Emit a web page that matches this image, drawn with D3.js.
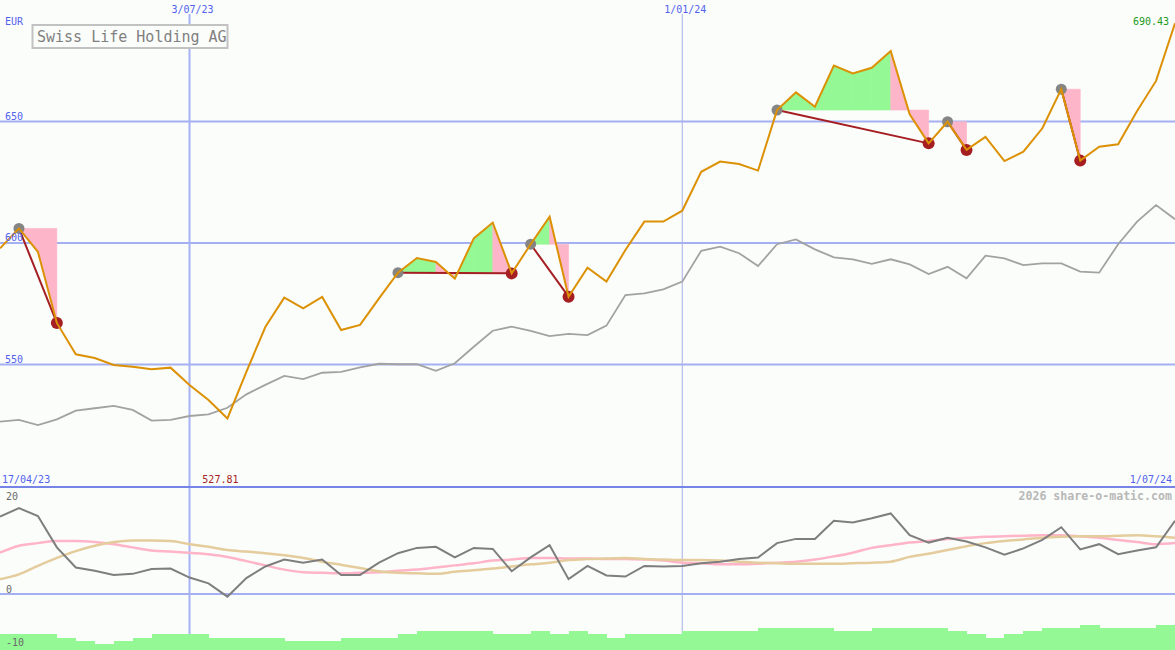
<!DOCTYPE html>
<html><head><meta charset="utf-8">
<script src="https://cdn.jsdelivr.net/npm/d3@7"></script>
<style>html,body{margin:0;padding:0;background:#fbfdfb;} svg{display:block}</style>
</head><body><svg id="c" width="1175" height="650"></svg>
<script>
const dates = ["2023-04-24","2023-05-01","2023-05-08","2023-05-15","2023-05-22","2023-05-29","2023-06-05","2023-06-12","2023-06-19","2023-06-26",
"2023-07-03","2023-07-10","2023-07-17","2023-07-24","2023-07-31","2023-08-07","2023-08-14","2023-08-21","2023-08-28","2023-09-04",
"2023-09-11","2023-09-18","2023-09-25","2023-10-02","2023-10-09","2023-10-16","2023-10-23","2023-10-30","2023-11-06","2023-11-13",
"2023-11-20","2023-11-27","2023-12-04","2023-12-11","2023-12-18","2023-12-25","2024-01-01","2024-01-08","2024-01-15","2024-01-22",
"2024-01-29","2024-02-05","2024-02-12","2024-02-19","2024-02-26","2024-03-04","2024-03-11","2024-03-18","2024-03-25","2024-04-01",
"2024-04-08","2024-04-15","2024-04-22","2024-04-29","2024-05-06","2024-05-13","2024-05-20","2024-05-27","2024-06-03","2024-06-10",
"2024-06-17","2024-06-24","2024-07-01"];
const price = [597.8,606.0,596.4,567.1,554.2,552.7,549.8,549.1,548.0,548.7,
541.6,535.4,527.81,547.0,565.4,577.5,573.1,577.8,564.2,566.3,
577.2,587.8,593.8,592.2,585.3,601.9,608.4,587.5,599.5,610.8,
577.9,589.8,584.1,597.1,608.8,608.8,613.3,629.3,633.5,632.5,
629.8,654.7,662.0,656.1,673.0,669.8,672.1,679.0,653.0,641.0,
649.9,638.3,643.7,633.7,637.6,647.2,663.3,633.9,639.6,640.6,
654.3,666.7,690.43];
const compare = [526.5,527.2,525.1,527.4,531.0,532.0,533.0,531.3,526.9,527.2,
528.8,529.5,532.2,537.7,541.6,545.3,544.0,546.6,547.0,548.8,
550.3,550.1,550.1,547.4,550.5,557.3,563.9,565.6,563.8,561.7,
562.6,562.1,566.0,578.6,579.3,580.9,584.1,596.8,598.5,595.8,
590.5,599.5,601.5,597.4,594.1,593.3,591.4,593.3,591.2,587.2,
590.2,585.5,594.8,593.7,590.9,591.6,591.6,588.2,587.8,599.5,
608.8,615.6,609.8];
const momentum = [14.6,16.2,14.7,8.8,5.0,4.4,3.6,3.8,4.7,4.8,
3.1,2.0,-0.5,3.0,5.2,6.5,5.9,6.5,3.6,3.6,
5.9,7.7,8.7,8.9,6.9,8.7,8.5,4.3,6.9,9.2,
2.8,5.3,3.5,3.3,5.3,5.2,5.3,5.8,6.1,6.6,
6.9,9.6,10.4,10.4,13.8,13.5,14.3,15.2,11.1,9.7,
10.6,9.9,8.8,7.4,8.6,10.2,12.6,8.4,9.4,7.5,
8.2,8.8,13.8];
const avgFast = [7.8,9.1,9.6,10.0,10.0,9.8,9.4,8.8,8.2,8.0,
7.8,7.5,7.0,6.2,5.4,4.6,4.1,4.0,3.9,4.0,
4.1,4.4,4.6,5.0,5.4,5.8,6.3,6.5,6.8,6.8,
6.7,6.7,6.6,6.6,6.5,6.3,5.9,5.8,5.6,5.6,
5.7,5.9,6.1,6.5,7.1,7.8,8.7,9.2,9.7,10.0,
10.4,10.6,10.8,10.9,11.0,11.1,11.1,10.9,10.6,10.2,
9.8,9.4,9.6];
const avgSlow = [2.8,3.7,5.3,6.8,8.1,9.1,9.8,10.1,10.1,10.0,
9.4,8.9,8.3,8.0,7.7,7.3,6.8,6.1,5.5,4.9,
4.3,4.0,3.9,3.8,4.2,4.5,4.8,5.2,5.6,5.9,
6.4,6.6,6.7,6.8,6.6,6.5,6.4,6.4,6.3,6.1,
5.9,5.8,5.7,5.7,5.7,5.8,5.9,6.1,7.0,7.6,
8.3,9.0,9.6,10.0,10.3,10.6,10.8,10.9,10.9,11.0,
11.1,10.9,10.6];
const volume = [157,157,157,123,90,63,90,123,157,157,
157,123,123,123,123,90,90,90,123,123,
123,157,190,190,190,190,157,157,190,157,
190,157,123,157,157,157,190,190,190,190,
223,223,223,223,190,190,223,223,223,223,
190,157,123,157,190,223,223,250,223,223,
223,250];
const signals = [[1,3],[21,27],[28,30],[41,49],[50,51],[56,57]];
const priceTicks = [650,600,550];
const lowerTicks = [20,0,-10];
const gridDates = ["2023-07-03","2024-01-01"];
const gridLabels = ["3/07/23","1/01/24"];
const rangeLabels = ["17/04/23","1/07/24"];
const title = "Swiss Life Holding AG";
const currency = "EUR";
const credit = "2026 share-o-matic.com";

const parse = d3.timeParse("%Y-%m-%d");
const D = dates.map(parse);
const W = 1175, H = 650;
const svg = d3.select("#c");
const font = "DejaVu Sans Mono";
const blue = "#5262ee";
const gridC = "#a4b0f2";
const green = "#94f894", pink = "#fdb6c9";

const x = d3.scaleTime().domain([D[0], D[D.length-1]]).range([0, W]);
const y = d3.scaleLinear().domain([500, 700]).range([486, 0]);
const yl = d3.scaleLinear().domain([-10, 20]).range([647, 488]);
const yv = d3.scaleLinear().domain([0, 250]).range([650, 625]);

svg.append("rect").attr("width", W).attr("height", H).attr("fill", "#fbfdfb");

// horizontal price grid
svg.selectAll(".hg").data(priceTicks).enter().append("line")
  .attr("x1", 0).attr("x2", W).attr("y1", d => y(d)).attr("y2", d => y(d))
  .attr("stroke", gridC).attr("stroke-width", 2);
// vertical date grid
svg.selectAll(".vg").data(gridDates).enter().append("line")
  .attr("x1", d => x(parse(d))).attr("x2", d => x(parse(d)))
  .attr("y1", 14).attr("y2", H)
  .attr("stroke", (d, i) => i === 0 ? "#a6b2f4" : "#a8b0e6")
  .attr("stroke-width", (d, i) => i === 0 ? 2 : 1);
// separator
svg.append("line").attr("x1", 0).attr("x2", W).attr("y1", 487).attr("y2", 487)
  .attr("stroke", "#7684e8").attr("stroke-width", 2);
// lower zero line
svg.append("line").attr("x1", 0).attr("x2", W).attr("y1", yl(0)).attr("y2", yl(0))
  .attr("stroke", gridC).attr("stroke-width", 2);

// volume bars
svg.selectAll(".vol").data(volume).enter().append("rect")
  .attr("x", (d, i) => x(D[i])).attr("width", (d, i) => x(D[i+1]) - x(D[i]) + 0.5)
  .attr("y", d => yv(d)).attr("height", d => yv(0) - yv(d))
  .attr("fill", green).attr("shape-rendering", "crispEdges");

// comparison line
const lineP = d3.line().x((d, i) => x(D[i])).y(d => y(d));
svg.append("path").datum(compare).attr("d", lineP)
  .attr("fill", "none").attr("stroke", "#a2a2a2").attr("stroke-width", 1.8);

// signal fills
signals.forEach(([p, t]) => {
  const level = price[p];
  for (let k = p; k < t; k++) {
    const seg = [k, k+1];
    const c = price[k+1] >= level ? green : pink;
    const area = d3.area().x(i => x(D[i])).y0(y(level)).y1(i => y(price[i]));
    svg.append("path").datum(seg).attr("d", area)
      .attr("fill", c).attr("stroke", c).attr("stroke-width", 0.6);
  }
});
// signal lines
svg.selectAll(".sl").data(signals).enter().append("line")
  .attr("x1", d => x(D[d[0]])).attr("y1", d => y(price[d[0]]))
  .attr("x2", d => x(D[d[1]])).attr("y2", d => y(price[d[1]]))
  .attr("stroke", "#a41e22").attr("stroke-width", 2);
svg.selectAll(".pk").data(signals).enter().append("circle")
  .attr("cx", d => x(D[d[0]])).attr("cy", d => y(price[d[0]])).attr("r", 5.5)
  .attr("fill", "#858585");
svg.selectAll(".tr").data(signals).enter().append("circle")
  .attr("cx", d => x(D[d[1]])).attr("cy", d => y(price[d[1]])).attr("r", 6)
  .attr("fill", "#a41e22");

// price line
svg.append("path").datum(price).attr("d", lineP)
  .attr("fill", "none").attr("stroke", "#dc9104").attr("stroke-width", 2);

// lower lines
const lineL = d3.line().x((d, i) => x(D[i])).y(d => yl(d)).curve(d3.curveMonotoneX);
svg.append("path").datum(avgFast).attr("d", lineL)
  .attr("fill", "none").attr("stroke", "#ffb4c8").attr("stroke-width", 2.5);
svg.append("path").datum(avgSlow).attr("d", lineL)
  .attr("fill", "none").attr("stroke", "#e4cc9c").attr("stroke-width", 2.5);
const lineM = d3.line().x((d, i) => x(D[i])).y(d => yl(d));
svg.append("path").datum(momentum).attr("d", lineM)
  .attr("fill", "none").attr("stroke", "#7e7e7e").attr("stroke-width", 2);

// texts
function txt(t, px, py, color, anchor, size, weight) {
  svg.append("text").attr("x", px).attr("y", py).text(t)
    .attr("fill", color).attr("text-anchor", anchor || "start")
    .attr("font-family", font).attr("font-size", (size || 10) + "px")
    .attr("font-weight", weight || "normal");
}
priceTicks.forEach(t => txt(String(t), 5, y(t) - 2, blue));
txt(currency, 5, 25, blue);
gridDates.forEach((d, i) => txt(gridLabels[i], x(parse(d)) + 3, 13, blue, "middle"));
txt(rangeLabels[0], 2, 483, blue);
txt(rangeLabels[1], 1172, 483, blue, "end");
const minIdx = price.indexOf(d3.min(price));
txt(d3.format(".2f")(price[minIdx]), x(D[minIdx]) - 7, 483, "#a41e22", "middle");
txt(d3.format(".2f")(price[price.length-1]), 1169, 25, "#229a22", "end");
lowerTicks.forEach(t => txt(String(t), 6, t === 20 ? 500 : yl(t) - 1, "#6a6a6a"));
txt(credit, 1172, 500, "#b8b8b8", "end", 11.6, "bold");

// title box
svg.append("rect").attr("x", 32.5).attr("y", 25).attr("width", 195).attr("height", 23)
  .attr("fill", "#fbfdfb").attr("stroke", "#c2c2c2").attr("stroke-width", 2);
txt(title, 37, 42, "#808080", "start", 15);
</script></body></html>
